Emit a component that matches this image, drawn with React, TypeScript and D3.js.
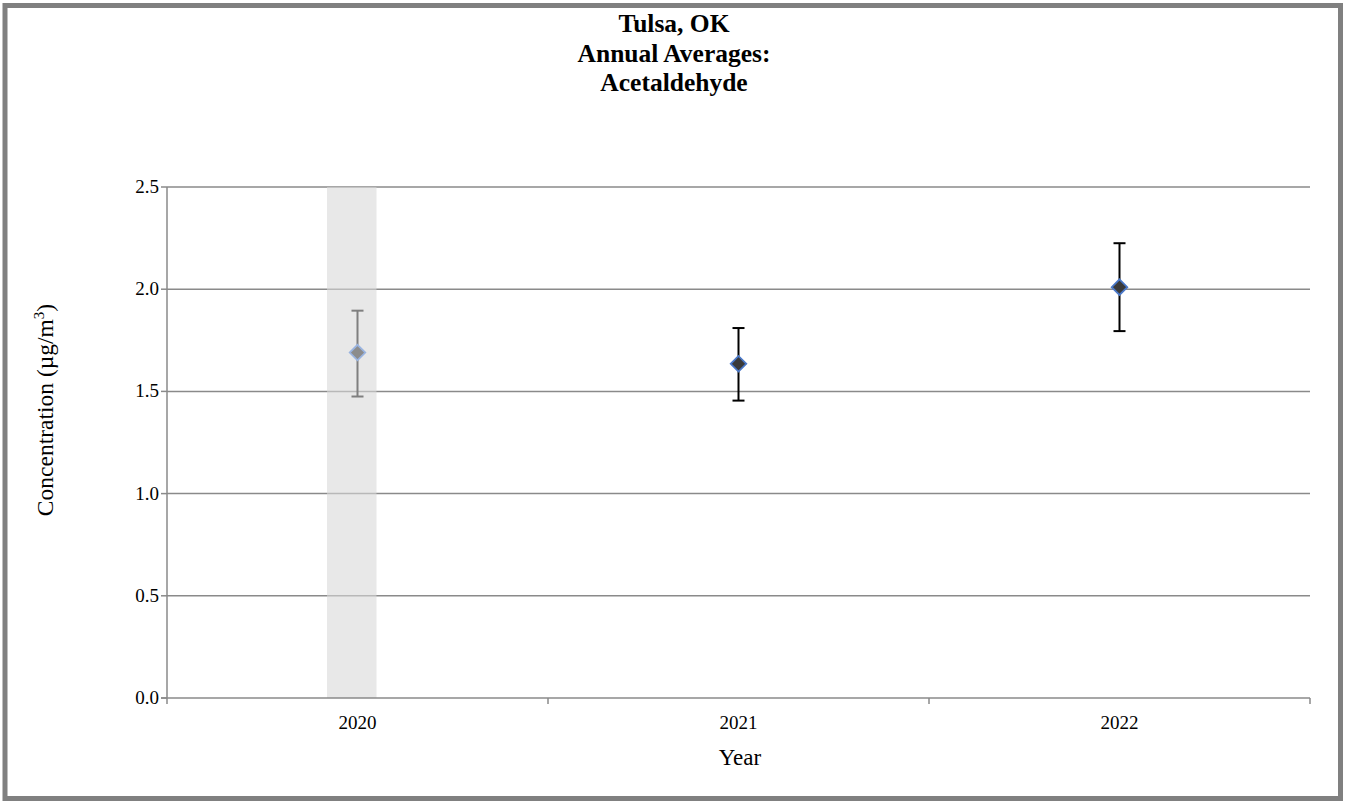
import React from "react";
import * as d3 from "d3";

const years = ["2020", "2021", "2022"];
const means = [1.69, 1.635, 2.01];
const lowers = [1.475, 1.455, 1.795];
const uppers = [1.895, 1.81, 2.225];
const yTicks = [0, 0.5, 1.0, 1.5, 2.0, 2.5];
const highlighted = ["2020"];
const titleLines = ["Tulsa, OK", "Annual Averages:", "Acetaldehyde"];

const W = 1346;
const H = 802;
const M = { left: 167, right: 1310, top: 187, bottom: 698 };

export default function App() {
  const x = d3.scaleBand<string>().domain(years).range([M.left, M.right]).padding(0);
  const y = d3.scaleLinear().domain([0, 2.5]).range([M.bottom, M.top]);
  const serif = "'Liberation Serif', 'Times New Roman', serif";
  const grid = "#8a8a8a";
  const bw = x.bandwidth();
  const boundaries = [...years.map((yr) => x(yr)!), M.right];

  return (
    <svg width={W} height={H} style={{ position: "absolute", left: 0, top: 0, background: "#fff" }} fontFamily={serif}>
      <rect x={0} y={0} width={W} height={H} fill="#fff" />
      <rect x={5} y={5.5} width={1335.5} height={793} fill="none" stroke="#808080" strokeWidth={5} />
      {titleLines.map((t, i) => (
        <text key={t} x={674} y={32 + i * 29.5} textAnchor="middle" fontWeight="bold" fontSize={25.5} fill="#000">
          {t}
        </text>
      ))}
      {yTicks.filter((v) => v > 0).map((v) => (
        <line key={v} x1={M.left} x2={M.right} y1={y(v)} y2={y(v)} stroke={grid} strokeWidth={1.5} />
      ))}
      {highlighted.map((yr) => {
        const cx = x(yr)! + bw / 2;
        return (
          <rect key={yr} x={cx - 30.5} y={M.top} width={49.5} height={M.bottom - M.top} fill="#d8d8d8" fillOpacity={0.59} />
        );
      })}
      <line x1={M.left} x2={M.left} y1={M.top} y2={M.bottom} stroke={grid} strokeWidth={1.5} />
      <line x1={M.left - 6} x2={M.right} y1={M.bottom} y2={M.bottom} stroke={grid} strokeWidth={1.5} />
      {yTicks.map((v) => (
        <g key={v}>
          <line x1={M.left - 6} x2={M.left} y1={y(v)} y2={y(v)} stroke={grid} strokeWidth={1.5} />
          <text x={M.left - 8} y={y(v) + 6} textAnchor="end" fontSize={19} fill="#000">
            {d3.format(".1f")(v)}
          </text>
        </g>
      ))}
      {boundaries.map((bx, i) => (
        <line key={i} x1={bx} x2={bx} y1={M.bottom} y2={M.bottom + 6} stroke={grid} strokeWidth={1.5} />
      ))}
      {years.map((yr) => (
        <text key={yr} x={x(yr)! + bw / 2} y={M.bottom + 31} textAnchor="middle" fontSize={19} fill="#000">
          {yr}
        </text>
      ))}
      <text x={740} y={765} textAnchor="middle" fontSize={23} fill="#000">Year</text>
      <text transform={`translate(53,${410}) rotate(-90)`} textAnchor="middle" fontSize={23.5} fill="#000">
        Concentration (µg/m<tspan dy={-9} fontSize={15}>3</tspan><tspan dy={9}>)</tspan>
      </text>
      {years.map((yr, i) => {
        const cx = x(yr)! + bw / 2;
        const hl = highlighted.includes(yr);
        const barColor = hl ? "#7f7f7f" : "#000";
        const fill = hl ? "#8c8c8c" : "#3a3a3a";
        const stroke = hl ? "#9ab4e0" : "#4a78c8";
        const cy = y(means[i]);
        const r = 7.8;
        return (
          <g key={yr}>
            <line x1={cx} x2={cx} y1={y(uppers[i])} y2={y(lowers[i])} stroke={barColor} strokeWidth={2} />
            <line x1={cx - 6} x2={cx + 6} y1={y(uppers[i])} y2={y(uppers[i])} stroke={barColor} strokeWidth={2} />
            <line x1={cx - 6} x2={cx + 6} y1={y(lowers[i])} y2={y(lowers[i])} stroke={barColor} strokeWidth={2} />
            <path
              d={`M${cx},${cy - r} L${cx + r},${cy} L${cx},${cy + r} L${cx - r},${cy} Z`}
              fill={fill}
              stroke={stroke}
              strokeWidth={1.75}
            />
          </g>
        );
      })}
    </svg>
  );
}
